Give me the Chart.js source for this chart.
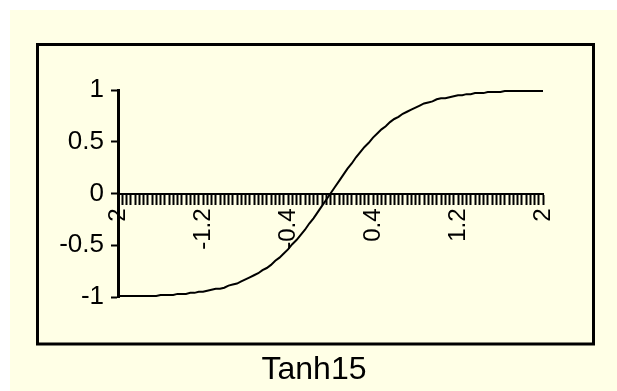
<!DOCTYPE html>
<html>
<head>
<meta charset="utf-8">
<script src="https://cdn.jsdelivr.net/npm/chart.js@4"></script>
<style>
  html, body { margin: 0; padding: 0; background: #fff; }
  #wrap { width: 617px; height: 391px; }
</style>
</head>
<body>
<div id="wrap"><canvas id="c" width="617" height="391"></canvas></div>
<script>
const titleText = 'Tanh15'

const xValues = [
  -2, -1.96, -1.92, -1.88, -1.84, -1.8, -1.76, -1.72, -1.68, -1.64,
  -1.6, -1.56, -1.52, -1.48, -1.44, -1.4, -1.36, -1.32, -1.28, -1.24,
  -1.2, -1.16, -1.12, -1.08, -1.04, -1, -0.96, -0.92, -0.88, -0.84,
  -0.8, -0.76, -0.72, -0.68, -0.64, -0.6, -0.56, -0.52, -0.48, -0.44,
  -0.4, -0.36, -0.32, -0.28, -0.24, -0.2, -0.16, -0.12, -0.08, -0.04,
  0, 0.04, 0.08, 0.12, 0.16, 0.2, 0.24, 0.28, 0.32, 0.36,
  0.4, 0.44, 0.48, 0.52, 0.56, 0.6, 0.64, 0.68, 0.72, 0.76,
  0.8, 0.84, 0.88, 0.92, 0.96, 1, 1.04, 1.08, 1.12, 1.16,
  1.2, 1.24, 1.28, 1.32, 1.36, 1.4, 1.44, 1.48, 1.52, 1.56,
  1.6, 1.64, 1.68, 1.72, 1.76, 1.8, 1.84, 1.88, 1.92, 1.96,
  2
]

const yValues = [
  -0.99, -0.99, -0.99, -0.99, -0.99, -0.99, -0.99, -0.99, -0.99, -0.99,
  -0.98, -0.98, -0.98, -0.98, -0.97, -0.97, -0.97, -0.96, -0.96, -0.95,
  -0.95, -0.94, -0.93, -0.92, -0.92, -0.91, -0.89, -0.88, -0.87, -0.85,
  -0.83, -0.81, -0.79, -0.77, -0.74, -0.72, -0.69, -0.65, -0.62, -0.58,
  -0.54, -0.49, -0.45, -0.40, -0.35, -0.29, -0.24, -0.18, -0.12, -0.06,
  0, 0.06, 0.12, 0.18, 0.24, 0.29, 0.35, 0.40, 0.45, 0.49,
  0.54, 0.58, 0.62, 0.65, 0.69, 0.72, 0.74, 0.77, 0.79, 0.81,
  0.83, 0.85, 0.87, 0.88, 0.89, 0.91, 0.92, 0.92, 0.93, 0.94,
  0.95, 0.95, 0.96, 0.96, 0.97, 0.97, 0.97, 0.98, 0.98, 0.98,
  0.98, 0.99, 0.99, 0.99, 0.99, 0.99, 0.99, 0.99, 0.99, 0.99,
  0.99
]

const xTickLabels = ['-2', '-1.2', '-0.4', '0.4', '1.2', '2']
const yTicks = [-1, -0.5, 0, 0.5, 1]

const FONT = '"Liberation Sans", Arial, sans-serif'

// background, frame and caption like the old spreadsheet chart
const frame = {
  id: 'frame',
  beforeDraw(chart) {
    const ctx = chart.ctx
    ctx.save()
    ctx.fillStyle = '#ffffff'
    ctx.fillRect(0, 0, chart.width, chart.height)
    ctx.fillStyle = '#ffffe6'
    ctx.fillRect(10, 10, chart.width - 10, chart.height - 10)
    ctx.strokeStyle = '#000'
    ctx.lineWidth = 3
    ctx.strokeRect(37.5, 44.5, 556, 299.5)
    ctx.restore()
  },
  afterDraw(chart) {
    const ctx = chart.ctx
    ctx.save()
    ctx.fillStyle = '#000'
    ctx.font = '32px ' + FONT
    ctx.textAlign = 'center'
    ctx.textBaseline = 'alphabetic'
    ctx.fillText(titleText, 314, 379)
    ctx.restore()
  }
}

new Chart(document.getElementById('c'), {
  type: 'line',
  data: {
    labels: xValues,
    datasets: [{
      data: yValues,
      borderColor: '#000',
      borderWidth: 2,
      pointRadius: 0,
      tension: 0,
      fill: false
    }]
  },
  options: {
    responsive: false,
    animation: false,
    layout: { padding: { left: 0, top: 90, right: 74, bottom: 94 } },
    plugins: {
      legend: { display: false },
      title: { display: false },
      tooltip: { enabled: false }
    },
    scales: {
      x: {
        type: 'category',
        position: { y: 0 },
        offset: false,
        border: { display: true, color: '#000', width: 2 },
        grid: {
          drawOnChartArea: false,
          drawTicks: true,
          tickLength: 10,
          tickWidth: 2,
          tickColor: '#000'
        },
        ticks: {
          autoSkip: false,
          maxRotation: 90,
          minRotation: 90,
          padding: 5,
          color: '#000',
          font: { family: FONT, size: 24 },
          callback: function (value) {
            const s = String(this.getLabelForValue(value))
            return xTickLabels.includes(s) ? s : ''
          }
        }
      },
      y: {
        min: -1,
        max: 1,
        afterFit(scale) { scale.width = 118 },
        afterBuildTicks(scale) { scale.ticks = yTicks.map(v => ({ value: v })) },
        border: { display: true, color: '#000', width: 3 },
        grid: {
          drawOnChartArea: false,
          drawTicks: true,
          tickLength: 7,
          tickWidth: 2,
          tickColor: '#000'
        },
        ticks: {
          padding: 7,
          color: '#000',
          font: { family: FONT, size: 26 },
          callback: (value) => String(value)
        }
      }
    }
  },
  plugins: [frame]
})
</script>
</body>
</html>
